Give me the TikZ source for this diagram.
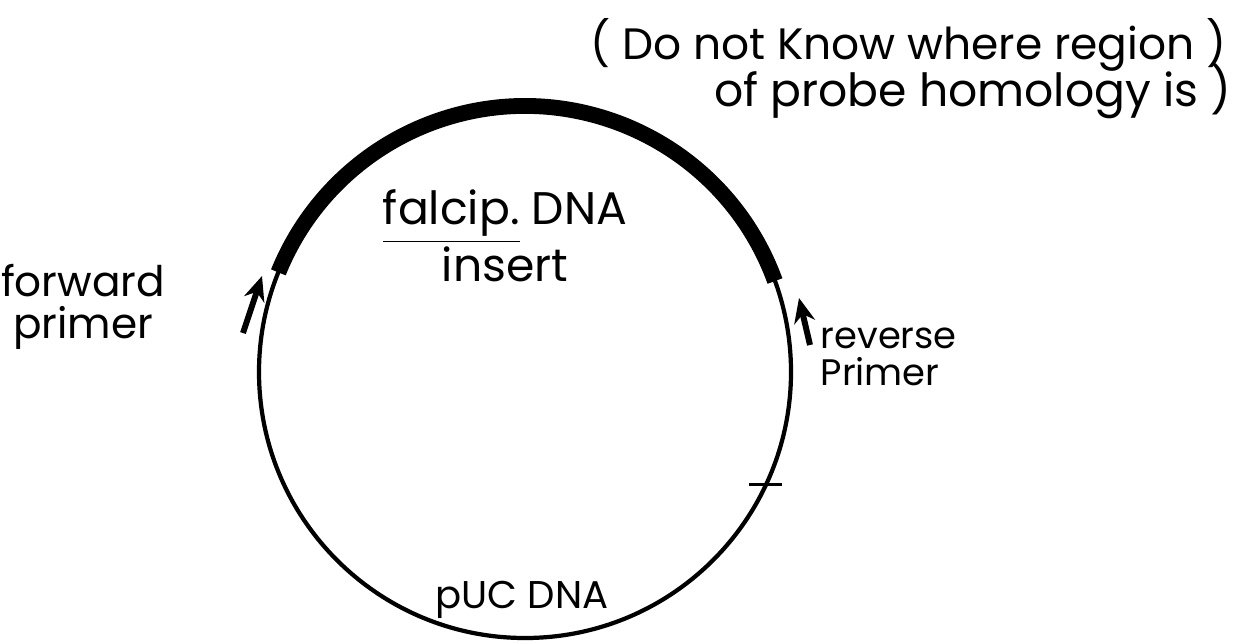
\documentclass[tikz,border=0pt]{standalone}
\usepackage{fontspec}
\setmainfont{Poppins}
\usetikzlibrary{arrows.meta}
\tikzset{
	hand/.style={font=\fontsize{#1}{#1}\selectfont, inner sep=0pt},
	hand/.default=12,
	primer/.style={-{Stealth[length=7pt,width=6pt]}, line width=1.7pt}
}
\begin{document}
\begin{tikzpicture}
		\useasboundingbox (0,0) rectangle (12.42,6.43);
		% plasmid
		\coordinate (c) at (5.25,2.71);
		\draw[line width=1.2pt] (c) circle (2.66);
		\draw[line width=4.5pt] ([shift={(20:2.66)}]c) arc (20:158:2.66);
		\coordinate (tick) at ([shift={(-25:2.66)}]c);
		\draw[line width=0.8pt] ([xshift=-0.17cm]tick) -- ([xshift=0.16cm]tick);
		% primers
		\coordinate (fwdtail) at (2.43,3.10);
		\coordinate (fwdhead) at (2.62,3.67);
		\draw[primer] (fwdtail) -- (fwdhead);
		\coordinate (revtail) at (8.10,2.98);
		\coordinate (revhead) at (7.99,3.45);
		\draw[primer] (revtail) -- (revhead);
		% labels
		\node (fwd) [hand=12, align=center] at (0.83,3.36) {forward\\primer};
		\node (rev) [hand=10.5, align=left, anchor=west] at (8.20,2.86) {reverse\\Primer};
		\node (insert) [hand=13, align=center] at (5.05,4.07) {\underline{falcip.} DNA\\insert};
		\node (puc) [hand=11] at (5.22,0.43) {pUC DNA};
		% note
		\node (note1) [hand=12.5, anchor=east] at (12.27,5.98) {( Do not Know where region )};
		\node (note2) [hand=13, anchor=east] at (12.32,5.52) {of probe homology is )};
	\end{tikzpicture}
\end{document}
